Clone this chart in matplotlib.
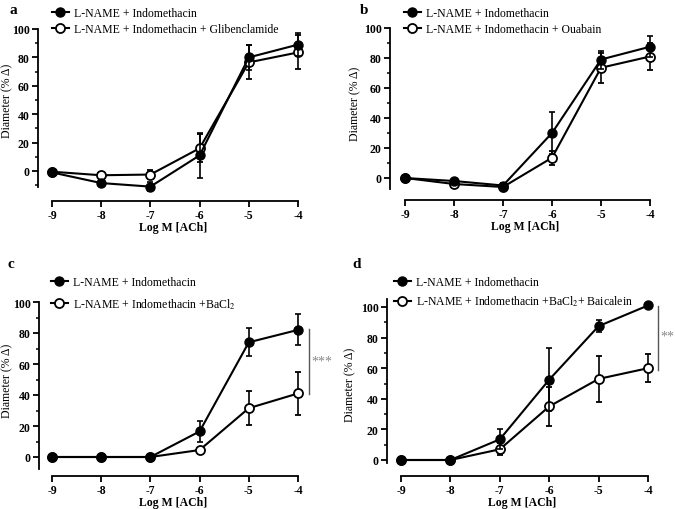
import matplotlib
matplotlib.use("Agg")
import matplotlib.pyplot as plt

plt.rcParams["font.family"] = ["Liberation Serif", "DejaVu Serif"]
plt.rcParams["mathtext.fontset"] = "stix"

W, H = 675, 510

log_ach = [-9, -8, -7, -6, -5, -4]

a_ctrl = [-1, -8.5, -11, 11, 80, 89]
a_ctrl_err = [1, 2, 3, 16, 9, 8]
a_drug = [-0.5, -3, -2.5, 16, 76.5, 83.5]
a_drug_err = [1, 2, 3, 10, 12, 12]

b_ctrl = [0, -2, -5, 30, 79, 87.5]
b_ctrl_err = [0.5, 1, 2, 14, 6, 7]
b_drug = [0, -4, -6, 13.5, 73.5, 81]
b_drug_err = [0.5, 1.5, 1.5, 4.5, 10, 9]

c_ctrl = [0, 0, 0, 16.5, 74, 82]
c_ctrl_err = [0.3, 0.3, 0.5, 7, 9, 10]
c_drug = [0, 0, 0, 4.5, 31.5, 41]
c_drug_err = [0.3, 0.3, 0.5, 1.5, 11, 14]

d_ctrl = [0, 0, 13.5, 52.5, 87.5, 101]
d_ctrl_err = [0.3, 0.3, 6.5, 20.5, 4, 1]
d_drug = [0, 0, 7, 35, 53, 60]
d_drug_err = [0.3, 0.3, 4, 13, 15, 9]

ctrl_label = "L-NAME + Indomethacin"
drug_labels = ["L-NAME + Indomethacin + Glibenclamide",
               "L-NAME + Indomethacin + Ouabain",
               r"L-NAME + Indomethacin +BaCl$_2$",
               r"L-NAME + Indomethacin +BaCl$_2$+ Baicalein"]

fig = plt.figure(figsize=(W / 100, H / 100), dpi=100)


def make_axes(yax, xm9, xm4, y0, y100, xaxis, ybot_spine, ytop_spine, minors, ylab_x,
              xright=-3.8, ytop=108):
    # geometry in pixels of the reference image
    ux = (xm4 - xm9) / 5.0
    uy = (y0 - y100) / 100.0
    xleft = -9 - (xm9 - yax) / ux
    ybot = -(xaxis - y0) / uy
    right_px = xm4 + (xright + 4) * ux
    top_px = y0 - ytop * uy
    w_px = right_px - yax
    h_px = xaxis - top_px
    ax = fig.add_axes([yax / W, 1 - xaxis / H, w_px / W, h_px / H])
    ax.set_xlim(xleft, xright)
    ax.set_ylim(ybot, ytop)
    for s in ["top", "right"]:
        ax.spines[s].set_visible(False)
    ax.spines["left"].set_bounds(ybot_spine, ytop_spine)
    ax.spines["bottom"].set_bounds(-9, -4)
    for s in ["left", "bottom"]:
        ax.spines[s].set_linewidth(1.3)
    ax.set_xticks(log_ach)
    ax.set_xticklabels([str(v) for v in log_ach])
    ax.set_yticks(range(0, 101, 20))
    ax.set_yticks(minors, minor=True)
    ax.tick_params(which="major", length=4, width=1.3, labelsize=8.5, pad=2)
    ax.tick_params(which="minor", length=2.5, width=1.1)
    for lab in ax.get_xticklabels() + ax.get_yticklabels():
        lab.set_fontweight("bold")
    ax.set_xlabel("Log M [ACh]", fontsize=8.5, fontweight="bold", labelpad=0)
    ax.set_ylabel("Diameter (% \u0394)", fontsize=8.5)
    ylab_y = (xaxis - (y0 - 50 * uy)) / h_px
    ax.yaxis.set_label_coords((ylab_x - yax) / w_px, ylab_y)
    return ax


def draw(ax, ctrl, ctrl_err, drug, drug_err, label, leg_xy, spacing=0.35):
    h2 = ax.errorbar(log_ach, drug, yerr=drug_err, color="black", marker="o", mfc="white",
                     mec="black", ms=6.5, mew=1.3, lw=1.5, capsize=2.5, elinewidth=1.2,
                     capthick=1.2, zorder=3, clip_on=False)
    h1 = ax.errorbar(log_ach, ctrl, yerr=ctrl_err, color="black", marker="o", mfc="black",
                     ms=6.5, lw=1.5, capsize=2.5, elinewidth=1.2, capthick=1.2, zorder=4,
                     clip_on=False)
    ax.legend([h1[0], h2[0]], [ctrl_label, label], loc="upper left",
              bbox_to_anchor=(leg_xy[0] / W, 1 - leg_xy[1] / H), bbox_transform=fig.transFigure,
              frameon=False, fontsize=8.5, handlelength=1.4, handletextpad=0.5,
              labelspacing=spacing, borderpad=0, borderaxespad=0)


ax_a = make_axes(38, 52, 298, 172, 30, 202, -11, 100, [-10, 10, 30, 50, 70, 90], 13)
draw(ax_a, a_ctrl, a_ctrl_err, a_drug, a_drug_err, drug_labels[0], (52, 8))
fig.text(10 / W, 1 - 10 / H, "a", fontsize=11, fontweight="bold", va="center")

ax_b = make_axes(390, 405, 650, 179, 29, 201, -7, 100, [10, 30, 50, 70, 90], 361)
draw(ax_b, b_ctrl, b_ctrl_err, b_drug, b_drug_err, drug_labels[1], (404, 8))
fig.text(360 / W, 1 - 10 / H, "b", fontsize=11, fontweight="bold", va="center")

ax_c = make_axes(39, 52, 298, 458, 303, 477, -7.5, 100, [10, 30, 50, 70, 90], 13)
draw(ax_c, c_ctrl, c_ctrl_err, c_drug, c_drug_err, drug_labels[2], (51, 277), spacing=0.7)
fig.text(8 / W, 1 - 265 / H, "c", fontsize=11, fontweight="bold", va="center")
ax_c.plot([-3.78, -3.78], [40.9, 82.8], color="#555555", lw=1, clip_on=False)
ax_c.text(-3.52, 62, "***", color="#888888", fontsize=10, ha="center", va="center")

ax_d = make_axes(387, 401, 648, 461, 308, 477, -2, 105, [10, 30, 50, 70, 90], 356)
draw(ax_d, d_ctrl, d_ctrl_err, d_drug, d_drug_err, drug_labels[3], (394, 277), spacing=0.5)
fig.text(352 / W, 1 - 265 / H, "d", fontsize=11, fontweight="bold", va="center")
ax_d.plot([-3.8, -3.8], [59, 100.6], color="#555555", lw=1, clip_on=False)
ax_d.text(-3.61, 81, "**", color="#888888", fontsize=10, ha="center", va="center")

fig.savefig("out.png", dpi=100)
